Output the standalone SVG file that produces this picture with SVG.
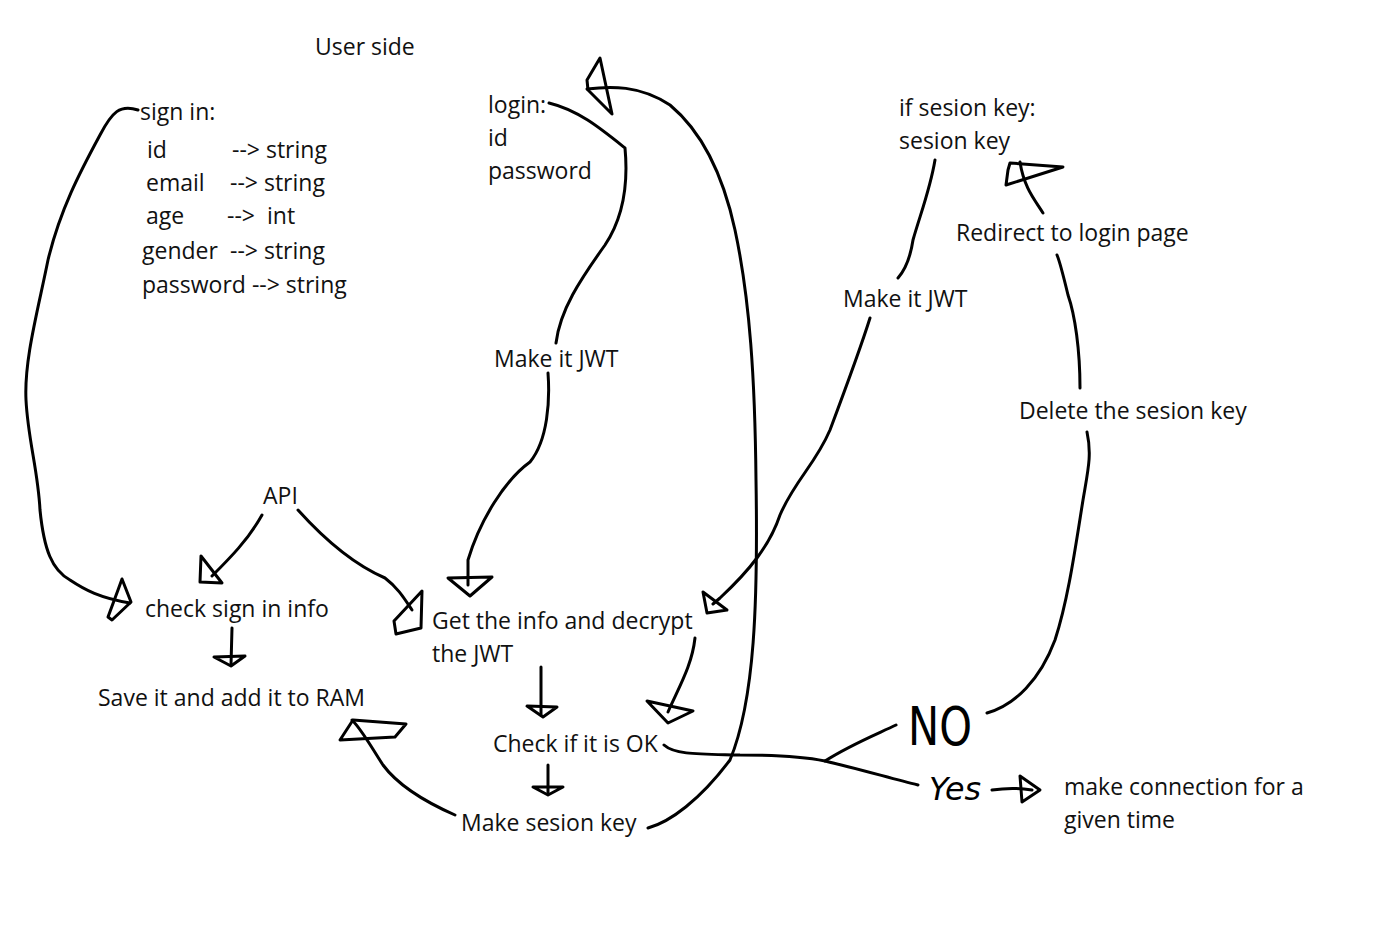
<svg xmlns="http://www.w3.org/2000/svg" width="1375" height="935" viewBox="0 0 1375 935">
<style>
text{font-family:"Open Sans","Noto Sans","Liberation Sans",sans-serif;font-size:23px;fill:#111}
text.no{font-family:"DejaVu Sans","Liberation Sans",sans-serif;font-size:54px;fill:#000}
text.yes{font-family:"DejaVu Sans","Liberation Sans",sans-serif;font-size:32px;font-style:italic;fill:#000}
.s{fill:none;stroke:#000;stroke-width:3;stroke-linecap:round;stroke-linejoin:round}
</style>
<rect width="1375" height="935" fill="#fff"/>
<g id="title"><text x="315" y="55">User side</text></g>
<g id="signin">
<text x="140" y="120">sign in:</text>
<text x="147" y="158">id</text><text x="232" y="158">--&gt; string</text>
<text x="146" y="191">email</text><text x="230" y="191">--&gt; string</text>
<text x="146" y="224">age</text><text x="227" y="224">--&gt;</text><text x="267" y="224">int</text>
<text x="142" y="259">gender</text><text x="230" y="259">--&gt; string</text>
<text x="142" y="293">password --&gt; string</text>
</g>
<g id="login"><text x="488" y="113">login:</text><text x="488" y="146">id</text><text x="488" y="179">password</text></g>
<g id="ifsesion"><text x="899" y="116">if sesion key:</text><text x="899" y="149">sesion key</text></g>
<g id="redirect"><text x="956" y="241">Redirect to login page</text></g>
<g id="jwt2"><text x="843" y="307">Make it JWT</text></g>
<g id="jwt1"><text x="494" y="367">Make it JWT</text></g>
<g id="delete"><text x="1019" y="419">Delete the sesion key</text></g>
<g id="api"><text x="263" y="504">API</text></g>
<g id="check"><text x="145" y="617">check sign in info</text></g>
<g id="getinfo"><text x="432" y="629">Get the info and decrypt</text><text x="432" y="662">the JWT</text></g>
<g id="save"><text x="98" y="706">Save it and add it to RAM</text></g>
<g id="ok"><text x="493" y="752">Check if it is OK</text></g>
<g id="sesionkey"><text x="461" y="831">Make sesion key</text></g>
<g id="connection"><text x="1064" y="795">make connection for a</text><text x="1064" y="828">given time</text></g>
<g id="no"><text class="no" x="908" y="745" textLength="64" lengthAdjust="spacingAndGlyphs">NO</text></g>
<g id="yes"><text class="yes" x="929" y="800" textLength="52" lengthAdjust="spacingAndGlyphs">Yes</text></g>
<g id="connectors" class="s">
<path class="s" d="M138,110 C120,104 112,112 100,135 C80,172 60,210 48,260 C38,310 24,360 26,400 C28,440 38,470 40,510 C44,550 52,570 70,580 C85,590 100,598 130,603"/>
<path class="s" d="M122,579 L131,602 L112,620 L108,617 L118,590 Z"/>
<path class="s" d="M549,103 C578,110 600,128 625,148 C628,180 625,215 605,245 C580,280 560,310 556,343"/>
<path class="s" d="M548,373 C550,400 548,440 530,462 C505,480 480,520 468,560 L468,585"/>
<path class="s" d="M448,578 L492,577 L470,596 Z"/>
<path class="s" d="M648,828 C670,822 700,800 730,760 C755,700 758,600 756,480 C755,380 750,300 735,230 C722,170 700,130 670,105 C640,85 610,86 587,89"/>
<path class="s" d="M600,58 L612,114 L588,90 L587,80 Z"/>
<path class="s" d="M262,515 C248,540 230,558 212,576"/>
<path class="s" d="M201,556 L200,582 L222,583 Z"/>
<path class="s" d="M298,510 C325,540 355,565 385,578 C398,588 404,598 412,610"/>
<path class="s" d="M422,591 L421,628 L396,634 L394,621 Z"/>
<path class="s" d="M232,628 L231,665"/>
<path class="s" d="M214,657 L245,656 L231,666 Z"/>
<path class="s" d="M541,667 L541,715"/>
<path class="s" d="M527,706 L557,707 L543,717 Z"/>
<path class="s" d="M548,765 L548,794"/>
<path class="s" d="M533,787 L563,787 L548,795 Z"/>
<path class="s" d="M455,815 C430,804 400,788 383,765 C370,745 362,730 352,720"/>
<path class="s" d="M353,720 L406,724 L395,737 L340,740 Z"/>
<path class="s" d="M695,638 C692,665 680,685 668,712"/>
<path class="s" d="M647,701 L693,711 L668,723 Z"/>
<path class="s" d="M870,318 C860,350 845,390 830,430 C815,465 795,480 780,515 C770,545 750,570 720,598 L713,604"/>
<path class="s" d="M703,592 L727,610 L707,613 Z"/>
<path class="s" d="M935,160 C930,190 920,215 913,240 C910,260 905,270 898,278"/>
<path class="s" d="M1080,388 C1080,350 1075,315 1068,295 C1062,270 1060,262 1057,255"/>
<path class="s" d="M1043,213 C1035,200 1024,188 1020,162"/>
<path class="s" d="M1010,163 L1063,167 L1006,185 L1008,170 Z"/>
<path class="s" d="M987,713 C1015,705 1040,680 1055,640 C1068,600 1075,550 1083,500 C1088,470 1092,455 1087,432"/>
<path class="s" d="M664,745 C675,755 700,754 740,755 C780,755 805,757 825,761 C850,745 875,735 896,725"/>
<path class="s" d="M825,761 C855,768 890,778 918,785"/>
<path class="s" d="M992,790 C1005,788 1020,788 1032,790"/>
<path class="s" d="M1020,776 L1040,790 L1022,802 Z"/>
</g>
</svg>
